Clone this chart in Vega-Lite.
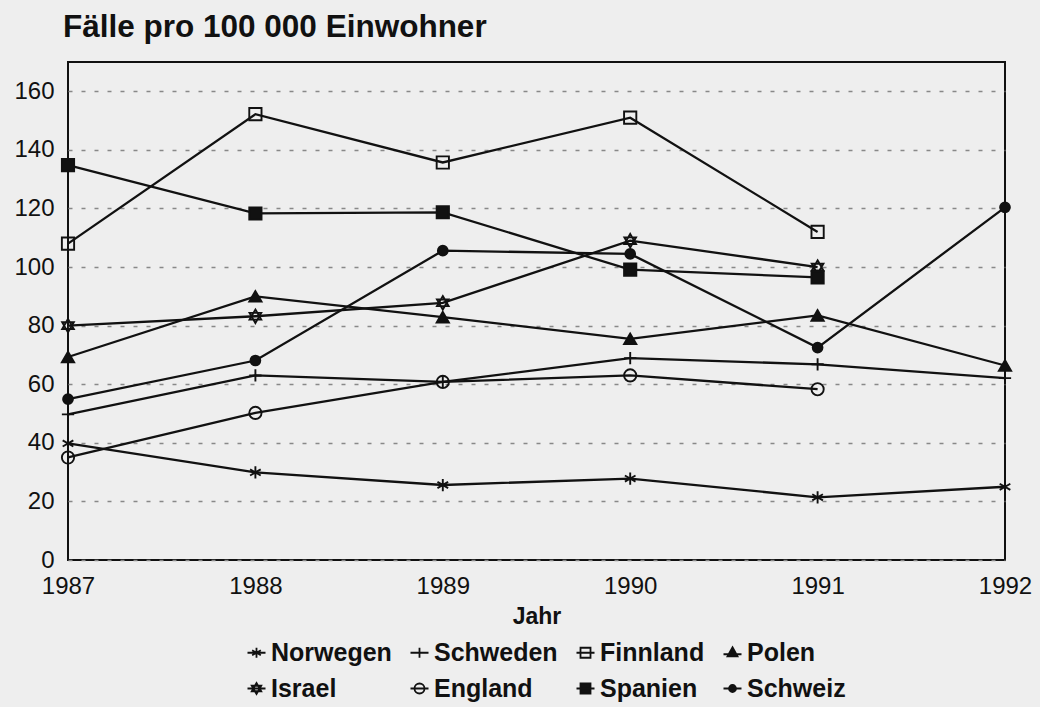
{
  "$schema": "https://vega.github.io/schema/vega-lite/v6.json",
  "width": 937,
  "height": 498,
  "autosize": {"type": "none"},
  "padding": {"left": 68, "top": 62, "right": 35, "bottom": 147},
  "background": "#eeeeee",
  "title": {
    "text": "Fälle pro 100 000 Einwohner",
    "anchor": "start",
    "frame": "group",
    "fontSize": 31.5,
    "fontWeight": "bold",
    "color": "#111111",
    "offset": 19,
    "dx": -5
  },
  "config": {
    "font": "Liberation Sans",
    "view": {"stroke": "#111111", "strokeWidth": 2}
  },
  "data": {
    "values": [
      {"country": "Norwegen", "year": 1987, "value": 39.8},
      {"country": "Norwegen", "year": 1988, "value": 29.9},
      {"country": "Norwegen", "year": 1989, "value": 25.6},
      {"country": "Norwegen", "year": 1990, "value": 27.8},
      {"country": "Norwegen", "year": 1991, "value": 21.4},
      {"country": "Norwegen", "year": 1992, "value": 25.0},
      {"country": "Schweden", "year": 1987, "value": 49.7},
      {"country": "Schweden", "year": 1988, "value": 63.0},
      {"country": "Schweden", "year": 1989, "value": 60.8},
      {"country": "Schweden", "year": 1990, "value": 68.9},
      {"country": "Schweden", "year": 1991, "value": 66.8},
      {"country": "Schweden", "year": 1992, "value": 62.1},
      {"country": "Finnland", "year": 1987, "value": 108},
      {"country": "Finnland", "year": 1988, "value": 152.2},
      {"country": "Finnland", "year": 1989, "value": 135.7},
      {"country": "Finnland", "year": 1990, "value": 151},
      {"country": "Finnland", "year": 1991, "value": 112},
      {"country": "Polen", "year": 1987, "value": 69.3},
      {"country": "Polen", "year": 1988, "value": 90},
      {"country": "Polen", "year": 1989, "value": 82.9},
      {"country": "Polen", "year": 1990, "value": 75.5},
      {"country": "Polen", "year": 1991, "value": 83.5},
      {"country": "Polen", "year": 1992, "value": 66.4},
      {"country": "Israel", "year": 1987, "value": 80},
      {"country": "Israel", "year": 1988, "value": 83.2},
      {"country": "Israel", "year": 1989, "value": 87.8},
      {"country": "Israel", "year": 1990, "value": 109},
      {"country": "Israel", "year": 1991, "value": 100},
      {"country": "England", "year": 1987, "value": 35},
      {"country": "England", "year": 1988, "value": 50.2},
      {"country": "England", "year": 1989, "value": 60.8},
      {"country": "England", "year": 1990, "value": 63},
      {"country": "England", "year": 1991, "value": 58.3},
      {"country": "Spanien", "year": 1987, "value": 134.8},
      {"country": "Spanien", "year": 1988, "value": 118.3},
      {"country": "Spanien", "year": 1989, "value": 118.7},
      {"country": "Spanien", "year": 1990, "value": 99.1},
      {"country": "Spanien", "year": 1991, "value": 96.5},
      {"country": "Schweiz", "year": 1987, "value": 54.9},
      {"country": "Schweiz", "year": 1988, "value": 68.1},
      {"country": "Schweiz", "year": 1989, "value": 105.6},
      {"country": "Schweiz", "year": 1990, "value": 104.5},
      {"country": "Schweiz", "year": 1991, "value": 72.5},
      {"country": "Schweiz", "year": 1992, "value": 120.4}
    ]
  },
  "encoding": {
    "x": {
      "field": "year",
      "type": "quantitative",
      "scale": {"domain": [1987, 1992], "nice": false, "zero": false},
      "axis": {
        "values": [1987, 1988, 1989, 1990, 1991, 1992],
        "format": "d",
        "title": "Jahr",
        "grid": false,
        "domain": false,
        "ticks": false,
        "labelFontSize": 24,
        "labelPadding": 14,
        "labelFlush": false,
        "labelOverlap": false,
        "labelColor": "#111111",
        "titleFontSize": 23,
        "titleFontWeight": "bold",
        "titleColor": "#111111",
        "titlePadding": 7
      }
    },
    "y": {
      "field": "value",
      "type": "quantitative",
      "scale": {"domain": [0, 170], "nice": false},
      "axis": {
        "values": [0, 20, 40, 60, 80, 100, 120, 140, 160],
        "title": null,
        "grid": true,
        "gridDash": [4, 9],
        "gridColor": "#888888",
        "gridWidth": 1.5,
        "domain": false,
        "ticks": false,
        "labelPadding": 14,
        "labelFontSize": 24,
        "labelColor": "#111111"
      }
    }
  },
  "layer": [
    {
      "mark": {"type": "line", "color": "#111111", "strokeWidth": 2.3},
      "encoding": {"detail": {"field": "country", "type": "nominal"}}
    },
    {
      "mark": {"type": "point", "size": 150, "strokeWidth": 1.9, "opacity": 1, "stroke": "#111111"},
      "encoding": {
        "shape": {
          "field": "country",
          "type": "nominal",
          "scale": {
            "domain": ["Norwegen", "Schweden", "Finnland", "Polen", "Israel", "England", "Spanien", "Schweiz"],
            "range": [
              "M0,-1L0,1M-0.87,-0.5L0.87,0.5M-0.87,0.5L0.87,-0.5",
              "M-1,0L1,0M0,-1L0,1",
              "square",
              "triangle-up",
              "M0,-1.1L0.95,0.55L-0.95,0.55ZM0,1.1L0.95,-0.55L-0.95,-0.55Z",
              "circle",
              "square",
              "M0.8,0A0.8,0.8,0,1,1,-0.8,0A0.8,0.8,0,1,1,0.8,0Z"
            ]
          },
          "legend": null
        },
        "fill": {
          "field": "country",
          "type": "nominal",
          "scale": {
            "domain": ["Norwegen", "Schweden", "Finnland", "Polen", "Israel", "England", "Spanien", "Schweiz"],
            "range": ["transparent", "transparent", "transparent", "#111111", "transparent", "transparent", "#111111", "#111111"]
          },
          "legend": null
        }
      }
    },
    {
      "transform": [{"filter": "false"}],
      "mark": {"type": "point", "size": 100, "strokeWidth": 1.8, "opacity": 1},
      "encoding": {
        "shape": {
          "field": "country",
          "type": "nominal",
          "scale": {
            "domain": ["Norwegen", "Schweden", "Finnland", "Polen", "Israel", "England", "Spanien", "Schweiz"],
            "range": [
              "M-1.8,0L1.8,0M0,-1L0,1M-0.87,-0.5L0.87,0.5M-0.87,0.5L0.87,-0.5",
              "M-1.8,0L1.8,0M0,-1L0,1",
              "M-1.8,0L1.8,0M-1,-1L1,-1L1,1L-1,1Z",
              "M-1.8,0.3L1.8,0.3M0,-1.1L1,0.7L-1,0.7Z",
              "M-1.8,0L1.8,0M0,-1.1L0.95,0.55L-0.95,0.55ZM0,1.1L0.95,-0.55L-0.95,-0.55Z",
              "M-1.8,0L1.8,0M1,0A1,1,0,1,1,-1,0A1,1,0,1,1,1,0Z",
              "M-1.8,0L1.8,0M-1,-1L1,-1L1,1L-1,1Z",
              "M-1.8,0L1.8,0M0.7,0A0.7,0.7,0,1,1,-0.7,0A0.7,0.7,0,1,1,0.7,0Z"
            ]
          },
          "legend": {
            "orient": "none",
            "legendX": 176,
            "legendY": 578,
            "padding": 0,
            "direction": "horizontal",
            "columns": 4,
            "title": null,
            "labelFont": "Liberation Sans",
            "labelFontSize": 25,
            "labelFontWeight": "bold",
            "labelColor": "#111111",
            "symbolSize": 100,
            "symbolStrokeWidth": 1.8,
            "labelOffset": 2,
            "columnPadding": 14,
            "rowPadding": 10
          }
        },
        "fill": {
          "field": "country",
          "type": "nominal",
          "scale": {
            "domain": ["Norwegen", "Schweden", "Finnland", "Polen", "Israel", "England", "Spanien", "Schweiz"],
            "range": ["transparent", "transparent", "transparent", "#111111", "transparent", "transparent", "#111111", "#111111"]
          }
        },
        "stroke": {
          "field": "country",
          "type": "nominal",
          "scale": {
            "domain": ["Norwegen", "Schweden", "Finnland", "Polen", "Israel", "England", "Spanien", "Schweiz"],
            "range": ["#111111", "#111111", "#111111", "#111111", "#111111", "#111111", "#111111", "#111111"]
          }
        }
      }
    }
  ],
  "resolve": {"scale": {"shape": "independent", "fill": "independent", "stroke": "independent"}}
}
